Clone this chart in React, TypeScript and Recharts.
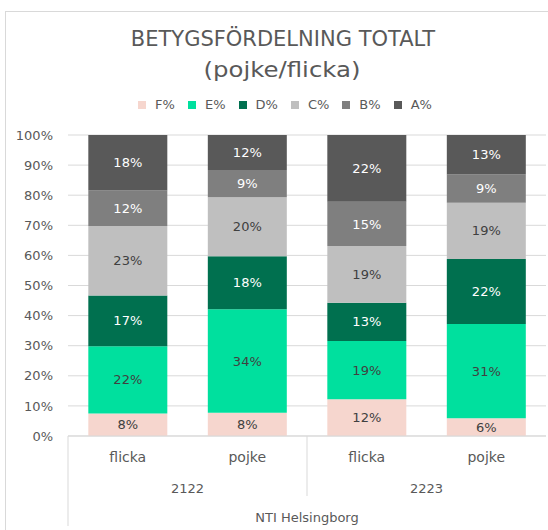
import React from 'react';
import { BarChart, Bar, XAxis, YAxis, CartesianGrid, LabelList } from 'recharts';

// ---- data ----
const groups = ['flicka', 'pojke', 'flicka', 'pojke'];
const years = ['2122', '2122', '2223', '2223'];
const school = 'NTI Helsingborg';
const seriesNames = ['F%', 'E%', 'D%', 'C%', 'B%', 'A%'];
const fValues = [7.5, 7.7, 12.2, 5.9];
const eValues = [22.3, 34.4, 19.4, 31.3];
const dValues = [16.9, 17.6, 12.7, 21.6];
const cValues = [23.1, 19.6, 18.8, 18.7];
const bValues = [11.8, 9.1, 14.7, 9.4];
const aValues = [18.4, 11.6, 22.2, 13.1];
const yTicks = [0, 10, 20, 30, 40, 50, 60, 70, 80, 90, 100];
const titleLine1 = 'BETYGSFÖRDELNING TOTALT';
const titleLine2 = '(pojke/flicka)';

// ---- styles ----
const FONT = '"DejaVu Sans", sans-serif';
const TEXT = '#595959';
const GRID = '#D9D9D9';
const seriesColors = ['#F6D6CE', '#00E09E', '#00704F', '#BFBFBF', '#7F7F7F', '#595959'];
const labelColors = ['#404040', '#404040', '#FFFFFF', '#404040', '#FFFFFF', '#FFFFFF'];

const W = 548;
const H = 530;
const MARGIN = { top: 135, right: 2, bottom: 4, left: 8 };
const Y_AXIS_W = 60;
const X_AXIS_H = 90;
const BAND = (W - MARGIN.left - MARGIN.right - Y_AXIS_W) / groups.length;

const seriesValues = [fValues, eValues, dValues, cValues, bValues, aValues];
const data = groups.map((g, i) => {
  const row: Record<string, number | string> = { key: `${years[i]} ${g} ${i}` };
  seriesNames.forEach((s, k) => {
    row[s] = seriesValues[k][i];
  });
  return row;
});

const CategoryTick = (props: any) => {
  const { x, y, payload } = props;
  const i: number = payload.index ?? props.index ?? 0;
  const half: number = payload.offset ? payload.offset : BAND / 2;
  const els: React.ReactNode[] = [];
  const txt = { fontFamily: FONT, fontSize: 13, fill: TEXT, textAnchor: 'middle' as const };
  els.push(
    <text key="g" x={x} y={y + 26} {...txt} fontSize={14}>
      {groups[i]}
    </text>
  );
  if (i === 0 || years[i] !== years[i - 1]) {
    let n = 1;
    while (i + n < years.length && years[i + n] === years[i]) n++;
    els.push(
      <text key="y" x={x - half + n * half} y={y + 56.5} {...txt}>
        {years[i]}
      </text>
    );
    els.push(
      <line
        key="l"
        x1={x - half}
        x2={x - half}
        y1={y}
        y2={i === 0 ? y + 90 : y + 60}
        stroke={GRID}
        strokeWidth={1}
      />
    );
  }
  if (i === 0) {
    els.push(
      <text key="s" x={x - half + groups.length * half} y={y + 85.5} {...txt}>
        {school}
      </text>
    );
  }
  return <g>{els}</g>;
};

export default function App() {
  return (
    <div style={{ position: 'absolute', left: 0, top: 0, width: W, height: H, background: '#fff', overflow: 'hidden' }}>
      <BarChart
        width={W}
        height={H}
        data={data}
        margin={MARGIN}
        barCategoryGap="17%"
      >
        <CartesianGrid vertical={false} stroke={GRID} />
        <XAxis
          dataKey="key"
          height={X_AXIS_H}
          interval={0}
          tickLine={false}
          tickSize={0}
          tickMargin={0}
          axisLine={{ stroke: GRID }}
          tick={<CategoryTick />}
        />
        <YAxis
          width={Y_AXIS_W}
          domain={[0, 100]}
          ticks={yTicks}
          allowDataOverflow
          axisLine={false}
          tickLine={false}
          tickSize={0}
          tickMargin={15}
          tickFormatter={(v: number) => `${v}%`}
          tick={{ fontFamily: FONT, fontSize: 13, fill: TEXT }}
        />
        {seriesNames.map((s, k) => (
          <Bar key={s} dataKey={s} stackId="a" fill={seriesColors[k]} isAnimationActive={false}>
            <LabelList
              dataKey={s}
              position="center"
              formatter={(v: any) => `${Math.round(Number(v))}%`}
              fill={labelColors[k]}
              style={{ fontFamily: FONT, fontSize: 13, fill: labelColors[k] }}
            />
          </Bar>
        ))}
      </BarChart>
      <svg
        width={W}
        height={H}
        style={{ position: 'absolute', left: 0, top: 0, pointerEvents: 'none' }}
      >
        <rect x={5.5} y={11.5} width={600} height={600} fill="none" stroke={GRID} strokeWidth={1} />
        <text x={283} y={45.5} textAnchor="middle" fontFamily={FONT} fontSize={21} fill={TEXT}>
          {titleLine1}
        </text>
        <text
          x={282}
          y={77}
          textAnchor="middle"
          fontFamily={FONT}
          fontSize={21}
          fill={TEXT}
          textLength={157}
          lengthAdjust="spacingAndGlyphs"
        >
          {titleLine2}
        </text>
      </svg>
      <div
        style={{
          position: 'absolute',
          left: 5,
          width: 560,
          top: 96,
          height: 18,
          display: 'flex',
          justifyContent: 'center',
          alignItems: 'center',
          fontFamily: FONT,
          fontSize: 13,
          color: TEXT,
          gap: 13,
        }}
      >
        {seriesNames.map((s, k) => (
          <div key={s} style={{ display: 'flex', alignItems: 'center' }}>
            <span style={{ width: 8, height: 8, background: seriesColors[k], marginRight: 9, display: 'inline-block' }} />
            <span style={{ lineHeight: '18px' }}>{s}</span>
          </div>
        ))}
      </div>
    </div>
  );
}
